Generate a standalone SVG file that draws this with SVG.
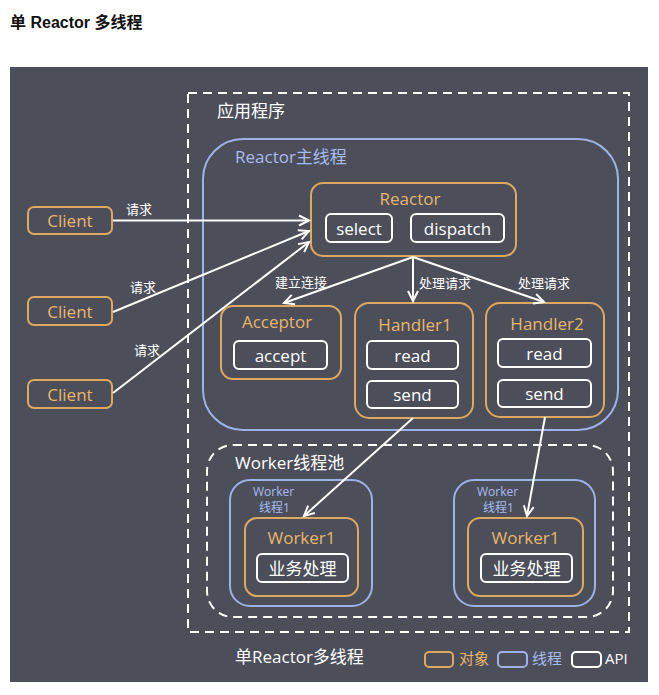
<svg xmlns="http://www.w3.org/2000/svg" width="659" height="695" viewBox="0 0 659 695">
<style>
text{font-family:"Open Sans","Noto Sans CJK SC",sans-serif;}
.obj{fill:none;stroke:#dca862;stroke-width:2;}
.thr{fill:none;stroke:#9fb2e8;stroke-width:2;}
.api{fill:none;stroke:#ffffff;stroke-width:2;}
.dash{fill:none;stroke:#ffffff;stroke-width:2;stroke-dasharray:9 6;}
.to{fill:#e8b66c;font-size:17px;text-anchor:middle;dominant-baseline:central;}
.tw{fill:#ffffff;font-size:17px;text-anchor:middle;dominant-baseline:central;}
.tb{fill:#a9bbf0;}
.lab{fill:#ffffff;font-size:13px;text-anchor:middle;dominant-baseline:central;}
.conn{stroke:#ffffff;stroke-width:2;fill:none;marker-end:url(#arr);}
</style>
<defs>
<marker id="arr" markerUnits="userSpaceOnUse" markerWidth="14" markerHeight="14" refX="11" refY="6" orient="auto" viewBox="0 0 14 12">
<path d="M1,1 L11,6 L1,11" fill="none" stroke="#ffffff" stroke-width="2"/>
</marker>
</defs>
<rect x="0" y="0" width="659" height="695" fill="#ffffff"/>
<text x="10" y="28" font-size="16" font-weight="bold" fill="#111" style="font-family:'Liberation Sans','Noto Sans CJK SC',sans-serif">单 Reactor 多线程</text>
<rect x="10" y="67" width="638" height="615" fill="#4c4e5a"/>

<g id="app">
<rect class="dash" x="188" y="93" width="441" height="539"/>
<text x="217" y="117" font-size="17" fill="#ffffff">应用程序</text>
</g>

<g id="reactor-thread">
<rect class="thr" x="203" y="139" width="415" height="291" rx="40"/>
<text x="235" y="163" font-size="17" class="tb">Reactor主线程</text>
</g>

<g id="reactor">
<rect class="obj" x="311" y="183" width="205" height="73" rx="12"/>
<text class="to" x="410" y="198">Reactor</text>
<rect class="api" x="326" y="214" width="66" height="28" rx="5"/>
<text class="tw" x="359" y="228">select</text>
<rect class="api" x="411" y="214" width="93" height="28" rx="5"/>
<text class="tw" x="457.5" y="228">dispatch</text>
</g>

<g id="client1">
<rect class="obj" x="28" y="207" width="84" height="27" rx="6"/>
<text class="to" x="70" y="220.5">Client</text>
</g>
<g id="client2">
<rect class="obj" x="28" y="297" width="84" height="28" rx="6"/>
<text class="to" x="70" y="311">Client</text>
</g>
<g id="client3">
<rect class="obj" x="28" y="380" width="84" height="28" rx="6"/>
<text class="to" x="70" y="394">Client</text>
</g>

<g id="acceptor">
<rect class="obj" x="221" y="306" width="120" height="73" rx="12"/>
<text class="to" x="277" y="321">Acceptor</text>
<rect class="api" x="234" y="341" width="93" height="28" rx="5"/>
<text class="tw" x="280.5" y="355">accept</text>
</g>

<g id="handler1">
<rect class="obj" x="355" y="303" width="118" height="115" rx="14"/>
<text class="to" x="415" y="324">Handler1</text>
<rect class="api" x="367" y="341" width="91" height="28" rx="5"/>
<text class="tw" x="412.5" y="355">read</text>
<rect class="api" x="367" y="381" width="91" height="27" rx="5"/>
<text class="tw" x="412.5" y="394.5">send</text>
</g>

<g id="handler2">
<rect class="obj" x="486" y="303" width="118" height="114" rx="14"/>
<text class="to" x="547" y="323">Handler2</text>
<rect class="api" x="498" y="339" width="93" height="28" rx="5"/>
<text class="tw" x="544.5" y="353">read</text>
<rect class="api" x="498" y="380" width="93" height="27" rx="5"/>
<text class="tw" x="544.5" y="393.5">send</text>
</g>

<g id="worker-pool">
<rect class="dash" x="207" y="445" width="406" height="172" rx="26"/>
<text x="235" y="469" font-size="17" fill="#ffffff">Worker线程池</text>
</g>

<g id="worker-thread1">
<rect class="thr" x="230" y="480" width="142" height="126" rx="20"/>
<text x="253" y="496" font-size="12" class="tb">Worker</text>
<text x="259" y="512" font-size="12" class="tb">线程1</text>
<rect class="obj" x="245" y="518" width="113" height="78" rx="12"/>
<text class="to" x="301.5" y="537">Worker1</text>
<rect class="api" x="257" y="554" width="91" height="28" rx="5"/>
<text class="tw" x="302.5" y="568">业务处理</text>
</g>

<g id="worker-thread2">
<rect class="thr" x="454" y="480" width="141" height="126" rx="20"/>
<text x="477" y="496" font-size="12" class="tb">Worker</text>
<text x="483" y="512" font-size="12" class="tb">线程1</text>
<rect class="obj" x="468" y="518" width="115" height="78" rx="12"/>
<text class="to" x="525.5" y="537">Worker1</text>
<rect class="api" x="481" y="554" width="91" height="28" rx="5"/>
<text class="tw" x="526.5" y="568">业务处理</text>
</g>

<g id="connectors">
<line class="conn" x1="113" y1="220.5" x2="309" y2="220.5"/>
<line class="conn" x1="113" y1="312" x2="309" y2="231"/>
<line class="conn" x1="113" y1="393" x2="309" y2="242"/>
<line class="conn" x1="413" y1="257" x2="284" y2="303"/>
<line class="conn" x1="413" y1="257" x2="413" y2="301"/>
<line class="conn" x1="413" y1="257" x2="544" y2="302"/>
<line class="conn" x1="413" y1="418" x2="304" y2="516"/>
<line class="conn" x1="545" y1="417" x2="527" y2="516"/>
<text class="lab" x="139" y="209">请求</text>
<text class="lab" x="143" y="287">请求</text>
<text class="lab" x="147" y="350">请求</text>
<text class="lab" x="301" y="282">建立连接</text>
<text class="lab" x="445" y="283">处理请求</text>
<text class="lab" x="544" y="283">处理请求</text>
</g>

<g id="legend">
<text x="235" y="663" font-size="17" fill="#ffffff">单Reactor多线程</text>
<rect class="obj" x="425" y="652" width="28" height="15" rx="4"/>
<text x="459" y="664" font-size="15" fill="#e8b66c">对象</text>
<rect class="thr" x="498" y="652" width="29" height="15" rx="4"/>
<text x="532" y="664" font-size="15" class="tb">线程</text>
<rect class="api" x="572" y="652" width="29" height="15" rx="4"/>
<text x="605" y="664" font-size="15" fill="#ffffff">API</text>
</g>
</svg>
